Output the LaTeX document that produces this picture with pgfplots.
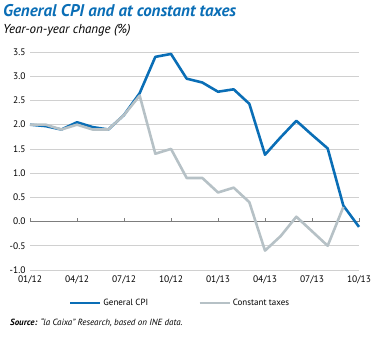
\documentclass[border=0pt]{standalone}
\usepackage{pgfplots}
\pgfplotsset{compat=1.18}
\usepackage{fontspec}
\setmainfont{PT Sans}
\definecolor{cpiblue}{RGB}{10,110,182}
\definecolor{taxgray}{RGB}{182,193,198}
\definecolor{gridgray}{RGB}{208,208,208}
\definecolor{zerogray}{RGB}{125,125,125}
\begin{document}
\begin{tikzpicture}
\path[use as bounding box] (0bp,0bp) rectangle (380bp,-338bp);
\node[anchor=west, font=\fontsize{17}{19}\selectfont\bfseries\itshape, text=cpiblue, inner sep=0] at (3bp,-11bp) {General CPI and at constant taxes};
\node[anchor=west, font=\fontsize{13}{15}\selectfont\itshape, inner sep=0] at (3bp,-30bp) {Year-on-year change (\%)};
\node[anchor=west, font=\fontsize{9}{10}\selectfont\itshape, inner sep=0] at (10bp,-323bp) {\textbf{Source:} “la Caixa” Research, based on INE data.};
\begin{axis}[
  at={(30bp,-270bp)}, anchor=south west,
  scale only axis, width=329bp, height=218bp,
  xmin=0, xmax=21, ymin=-1, ymax=3.5,
  axis line style={draw=none},
  xtick={0,3,6,9,12,15,18,21},
  xticklabels={01/12,04/12,07/12,10/12,01/13,04/13,07/13,10/13},
  ytick={-1,-0.5,0,0.5,1,1.5,2,2.5,3,3.5},
  yticklabel style={/pgf/number format/fixed, /pgf/number format/fixed zerofill, /pgf/number format/precision=1},
  ymajorgrids, grid style={gridgray, line width=0.6pt},
  major tick length=0,
  tick label style={font=\fontsize{9.5}{11}\selectfont},
  yticklabel style={xshift=-1bp},
  xticklabel style={yshift=-2bp},
  /pgf/number format/assume math mode=true,
  clip=false,
  legend style={at={(0.456,-0.151)}, anchor=center, draw=none, fill=none,
    legend columns=2, font=\fontsize{9}{10}\selectfont,
    /tikz/every odd column/.append style={column sep=0bp},
    /tikz/every even column/.append style={column sep=48bp}},
  legend image code/.code={\draw[#1] (0bp,0bp) -- (30bp,0bp);},
]
\draw[zerogray, line width=1.1pt] (axis cs:0,0) -- (axis cs:21,0);
\pgfplotsinvokeforeach{0,3,6,9,12,15,18,21}{\draw[zerogray, line width=0.6pt] (axis cs:#1,0) -- (axis cs:#1,0.075);}
\addplot[cpiblue, line width=2.6pt, line join=round] coordinates {
(0,2.0) (1,1.97) (2,1.9) (3,2.05) (4,1.95) (5,1.9) (6,2.2) (7,2.65) (8,3.4) (9,3.46) (10,2.95) (11,2.87) (12,2.68) (13,2.73) (14,2.43) (15,1.38) (16,1.74) (17,2.08) (18,1.79) (19,1.51) (20,0.33) (21,-0.11)};
\addlegendentry{General CPI}
\addplot[taxgray, line width=2.6pt, line join=round] coordinates {
(0,2.0) (1,2.0) (2,1.9) (3,2.0) (4,1.9) (5,1.9) (6,2.2) (7,2.6) (8,1.4) (9,1.5) (10,0.9) (11,0.9) (12,0.6) (13,0.7) (14,0.4) (15,-0.6) (16,-0.3) (17,0.1) (18,-0.2) (19,-0.5) (20,0.3)};
\addlegendentry{Constant taxes}
\end{axis}
\end{tikzpicture}
\end{document}
